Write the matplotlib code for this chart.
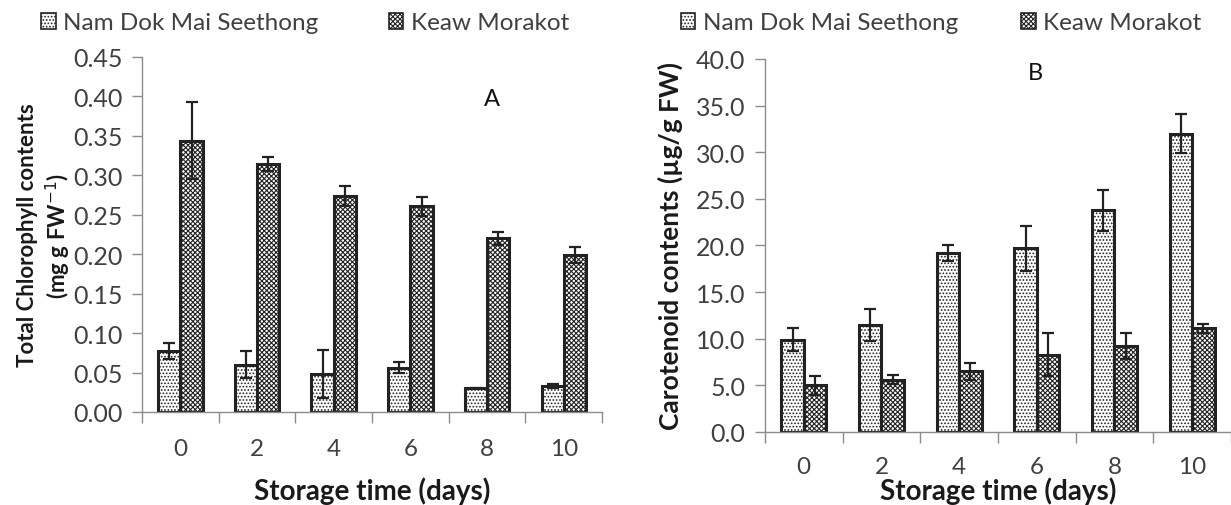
import numpy as np
import matplotlib
matplotlib.use("Agg")
import matplotlib.pyplot as plt
from matplotlib.patches import Patch

# storage days (categories)
days = ["0", "2", "4", "6", "8", "10"]

# A: total chlorophyll (mg g FW-1)
chl_ndm = [0.077, 0.060, 0.048, 0.056, 0.030, 0.033]
chl_ndm_err = [0.010, 0.017, 0.030, 0.007, 0.001, 0.002]
chl_km = [0.344, 0.314, 0.274, 0.261, 0.220, 0.199]
chl_km_err = [0.049, 0.009, 0.013, 0.012, 0.008, 0.010]

# B: carotenoid (ug/g FW)
car_ndm = [9.9, 11.5, 19.2, 19.7, 23.8, 32.0]
car_ndm_err = [1.2, 1.7, 0.9, 2.4, 2.2, 2.1]
car_km = [5.0, 5.6, 6.5, 8.3, 9.2, 11.1]
car_km_err = [1.0, 0.5, 0.9, 2.3, 1.4, 0.5]

series_names = ["Nam Dok Mai Seethong", "Keaw Morakot"]

plt.rcParams['font.family'] = ['Lato', 'DejaVu Sans']
plt.rcParams['hatch.linewidth'] = 0.8
plt.rcParams['hatch.color'] = '#2a2a2a'

text_col = '#404040'
spine_col = '#8c8c8c'
edge_col = '#222222'

fig = plt.figure(figsize=(12.31, 5.06), dpi=100)
axA = fig.add_axes([0.1154, 0.1838, 0.3737, 0.7016])
axB = fig.add_axes([0.6214, 0.1443, 0.3786, 0.7372])

bw = 0.29
styles = [dict(facecolor='white', hatch='.....'),
          dict(facecolor='white', hatch='xxxxxxx')]


def draw(ax, vals, errs, ymax, ystep, fmt, xpad):
    x = np.arange(len(days))
    for i, (v, e) in enumerate(zip(vals, errs)):
        pos = x + (i - 0.5) * bw
        ax.bar(pos, v, width=bw, edgecolor=edge_col, linewidth=2.2,
               zorder=2, **styles[i])
        ax.errorbar(pos, v, yerr=e, fmt='none', ecolor='#222222',
                    elinewidth=1.6, capsize=4, capthick=1.6, zorder=3)
    ticks = np.arange(0, ymax + ystep / 2, ystep)
    ax.set_xlim(-0.5, len(days) - 0.5)
    ax.set_ylim(0, ymax)
    ax.set_yticks(ticks)
    ax.set_yticklabels([fmt.format(t) for t in ticks])
    ax.set_xticks(x)
    ax.set_xticklabels(days)
    ax.set_xticks(np.arange(-0.5, len(days)), minor=True)
    ax.tick_params(axis='x', which='major', length=0, pad=xpad,
                   labelsize=17.5, labelcolor=text_col)
    ax.tick_params(axis='x', which='minor', length=8, width=1, color=spine_col)
    ax.tick_params(axis='y', length=7, width=1, color=spine_col,
                   labelsize=18, labelcolor=text_col, pad=7)
    for s in ['top', 'right']:
        ax.spines[s].set_visible(False)
    for s in ['left', 'bottom']:
        ax.spines[s].set_color(spine_col)
        ax.spines[s].set_linewidth(1.0)
    ax.spines['bottom'].set_zorder(4)


draw(axA, [chl_ndm, chl_km], [chl_ndm_err, chl_km_err], 0.45, 0.05, "{:.2f}", 19)
draw(axB, [car_ndm, car_km], [car_ndm_err, car_km_err], 40.0, 5.0, "{:.1f}", 17)

axA.set_xlabel("Storage time (days)", fontsize=20, fontweight='bold',
               color='#1a1a1a', labelpad=12)
axB.set_xlabel("Storage time (days)", fontsize=20, fontweight='bold',
               color='#1a1a1a', labelpad=0)
axA.set_ylabel("Total Chlorophyll contents\n(mg g FW$^{-1}$)", fontsize=16,
               fontweight='bold', color='#1a1a1a', labelpad=0, linespacing=1.25)
axB.set_ylabel("Carotenoid contents (µg/g FW)", fontsize=19,
               fontweight='bold', color='#1a1a1a', labelpad=9)

axA.text(4.06, 0.398, "A", fontsize=17, color='#111111', ha='center', va='center')
axB.text(2.98, 38.6, "B", fontsize=17, color='#111111', ha='center', va='center')

handles = [Patch(facecolor='white', edgecolor=edge_col, linewidth=1.2, hatch=styles[i]['hatch'],
                 label=series_names[i]) for i in range(2)]
for ax, cx, cs in [(axA, 305 / 1231, 2.9), (axB, 941 / 1231, 2.6)]:
    leg = ax.legend(handles=handles, ncol=2, loc='center',
                    bbox_to_anchor=(cx, 1 - 24 / 506), bbox_transform=fig.transFigure,
                    frameon=False, fontsize=17.5, handlelength=0.6, handleheight=0.6,
                    handletextpad=0.3, columnspacing=cs, borderaxespad=0)
    for t in leg.get_texts():
        t.set_color(text_col)

fig.savefig("out.png", dpi=100)
